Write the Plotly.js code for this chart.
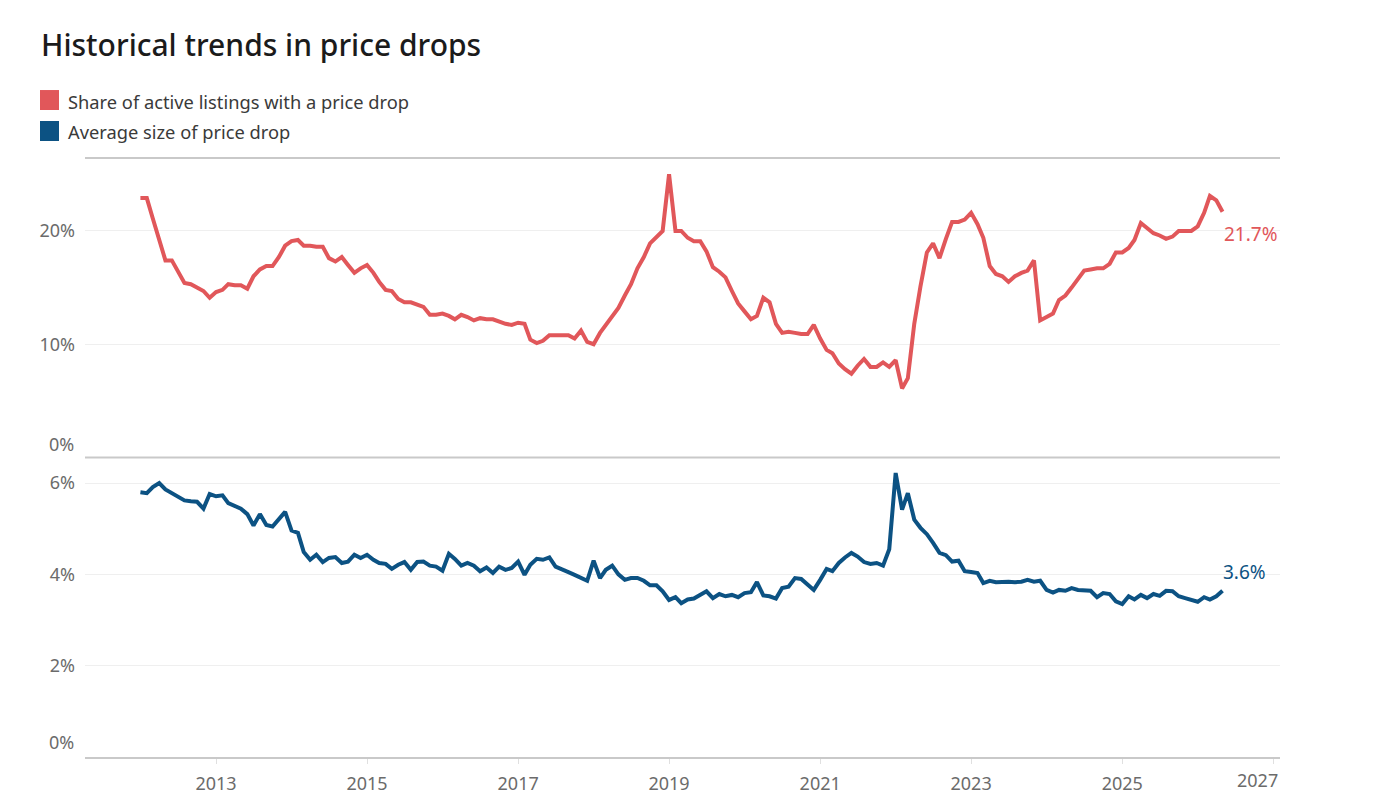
<!DOCTYPE html>
<html>
<head>
<meta charset="utf-8">
<script src="https://cdn.plot.ly/plotly-3.0.1.min.js"></script>
<style>
  html, body { margin: 0; padding: 0; background: #ffffff; }
  #chart { width: 1400px; height: 812px; }
</style>
</head>
<body>
<div id="chart"></div>
<script>
// ---------- DATA (monthly, starting January 2012) ----------
const startYear = 2012;

const seriesNames = [
  'Share of active listings with a price drop',
  'Average size of price drop'
];

// Share of active listings with a price drop (%)
const shareWithDrop = [
  22.9, 22.9, 21.1, 19.2, 17.4, 17.4, 16.4, 15.4, 15.3, 15.0, 14.7, 14.1, // 2012
  14.6, 14.8, 15.3, 15.2, 15.2, 14.9, 16.0, 16.6, 16.9, 16.9, 17.7, 18.7, // 2013
  19.1, 19.2, 18.7, 18.7, 18.6, 18.6, 17.6, 17.3, 17.7, 17.0, 16.3, 16.7, // 2014
  17.0, 16.3, 15.5, 14.8, 14.7, 14.0, 13.7, 13.7, 13.5, 13.3, 12.6, 12.6, // 2015
  12.7, 12.5, 12.2, 12.6, 12.4, 12.1, 12.3, 12.2, 12.2, 12.0, 11.8, 11.7, // 2016
  11.9, 11.8, 10.4, 10.1, 10.3, 10.8, 10.8, 10.8, 10.8, 10.5, 11.2, 10.2, // 2017
  10.0, 11.0, 11.7, 12.5, 13.2, 14.3, 15.3, 16.7, 17.7, 18.9, 19.4, 20.0, // 2018
  25.0, 20.0, 20.0, 19.4, 19.1, 19.1, 18.2, 16.8, 16.4, 15.9, 14.7, 13.6, // 2019
  12.9, 12.2, 12.5, 14.1, 13.7, 11.8, 11.0, 11.1, 11.0, 10.9, 10.9, 11.7, // 2020
  10.5,  9.5,  9.2,  8.3,  7.8,  7.4,  8.1,  8.7,  8.0,  8.0,  8.4,  8.0, // 2021
   8.6,  6.1,  7.0, 11.8, 15.1, 18.1, 18.9, 17.6, 19.3, 20.8, 20.8, 21.0, // 2022
  21.6, 20.6, 19.4, 16.9, 16.2, 16.0, 15.5, 16.0, 16.3, 16.5, 17.4, 12.1, // 2023
  12.4, 12.7, 13.9, 14.3, 15.0, 15.7, 16.5, 16.6, 16.7, 16.7, 17.1, 18.1, // 2024
  18.1, 18.5, 19.2, 20.7, 20.3, 19.8, 19.6, 19.3, 19.5, 20.0, 20.0, 20.0, // 2025
  20.4, 21.6, 23.1, 22.7, 21.7                                            // 2026
];

// Average size of price drop (%)
const avgDropSize = [
  5.80, 5.78, 5.91, 6.00, 5.86, 5.78, 5.71, 5.62, 5.60, 5.59, 5.44, 5.76, // 2012
  5.71, 5.73, 5.56, 5.49, 5.44, 5.32, 5.07, 5.32, 5.08, 5.05, 5.20, 5.37, // 2013
  4.96, 4.91, 4.49, 4.32, 4.43, 4.27, 4.36, 4.38, 4.25, 4.28, 4.43, 4.36, // 2014
  4.43, 4.32, 4.25, 4.23, 4.12, 4.21, 4.27, 4.10, 4.27, 4.28, 4.19, 4.17, // 2015
  4.08, 4.45, 4.34, 4.19, 4.25, 4.19, 4.07, 4.15, 4.03, 4.17, 4.10, 4.14, // 2016
  4.28, 3.99, 4.21, 4.34, 4.32, 4.37, 4.17, 4.10, 4.05, 3.99, 3.93, 3.86, // 2017
  4.30, 3.92, 4.10, 4.19, 4.00, 3.88, 3.92, 3.92, 3.86, 3.76, 3.76, 3.63, // 2018
  3.44, 3.50, 3.37, 3.45, 3.47, 3.54, 3.63, 3.48, 3.57, 3.52, 3.55, 3.50, // 2019
  3.59, 3.61, 3.83, 3.54, 3.52, 3.47, 3.70, 3.73, 3.92, 3.90, 3.77, 3.66, // 2020
  3.88, 4.12, 4.07, 4.25, 4.37, 4.47, 4.39, 4.27, 4.23, 4.25, 4.19, 4.55, // 2021
  6.22, 5.42, 5.78, 5.20, 5.02, 4.88, 4.69, 4.47, 4.42, 4.28, 4.30, 4.07, // 2022
  4.05, 4.03, 3.81, 3.86, 3.83, 3.84, 3.84, 3.83, 3.84, 3.88, 3.84, 3.86, // 2023
  3.66, 3.60, 3.66, 3.64, 3.70, 3.66, 3.64, 3.64, 3.50, 3.59, 3.57, 3.41, // 2024
  3.35, 3.52, 3.45, 3.55, 3.48, 3.57, 3.53, 3.64, 3.63, 3.52, 3.48, 3.45, // 2025
  3.40, 3.50, 3.45, 3.52, 3.64                                            // 2026
];

const xTickYears = [2013, 2015, 2017, 2019, 2021, 2023, 2025, 2027];
const topTickVals = [10, 20];
const bottomTickVals = [2, 4, 6];

// ---------- STYLE ----------
const RED = '#e1575a';
const BLUE = '#0c5283';
const FONT = '"Noto Sans", "DejaVu Sans", sans-serif';
const AXIS_GRAY = '#c9c9c9';
const LABEL_GRAY = '#6b6b6b';

const months = shareWithDrop.map((_, i) => {
  const y = startYear + Math.floor(i / 12);
  const m = (i % 12) + 1;
  return y + '-' + String(m).padStart(2, '0') + '-01';
});

const lastIdx = months.length - 1;

// plot area in pixels: x 85..1280, y 158..757.3
const W = 1400, H = 812;
const L = 85, R = 1280, T = 158, B = 757.3;
const px2x = px => (px - L) / (R - L);
const px2y = py => (B - py) / (B - T);

const traces = [
  {
    x: months, y: shareWithDrop, name: seriesNames[0],
    type: 'scatter', mode: 'lines',
    line: { color: RED, width: 4, shape: 'linear' },
    xaxis: 'x', yaxis: 'y2', hoverinfo: 'x+y'
  },
  {
    x: months, y: avgDropSize, name: seriesNames[1],
    type: 'scatter', mode: 'lines',
    line: { color: BLUE, width: 4, shape: 'linear' },
    xaxis: 'x', yaxis: 'y', hoverinfo: 'x+y'
  }
];

const yTickFont = { family: FONT, size: 18, color: LABEL_GRAY };

const layout = {
  width: W, height: H,
  paper_bgcolor: '#ffffff', plot_bgcolor: '#ffffff',
  showlegend: false,
  margin: { l: L, r: W - R, t: T, b: H - B, pad: 0 },
  title: {
    text: 'Historical trends in price drops',
    font: { family: FONT, size: 30, color: '#1b1b1b', weight: 500 },
    xref: 'container', yref: 'container',
    x: 41 / W, xanchor: 'left',
    y: 1 - 45 / H, yanchor: 'middle'
  },
  xaxis: {
    type: 'date',
    range: ['2011-04-08', '2027-02-03'],
    tickvals: xTickYears.map(y => y + '-01-01'),
    ticktext: xTickYears.map(y => (y === 2027 ? '' : String(y))),
    ticks: 'outside', ticklen: 5, tickcolor: '#e0e0e0', tickwidth: 1,
    ticklabelstandoff: 4,
    showgrid: false, zeroline: false,
    showline: true, linecolor: AXIS_GRAY, linewidth: 2,
    tickfont: yTickFont,
    anchor: 'y', fixedrange: true
  },
  yaxis: {
    domain: [0, 0.5],
    range: [0, 6.56],
    tickvals: bottomTickVals,
    ticktext: bottomTickVals.map(v => v + '%'),
    showgrid: true, gridcolor: '#efefef', gridwidth: 1,
    zeroline: false, showline: false, ticks: '',
    ticklabelstandoff: 9,
    tickfont: yTickFont, anchor: 'x', fixedrange: true
  },
  yaxis2: {
    domain: [0.5, 1],
    range: [0, 26.44],
    tickvals: topTickVals,
    ticktext: topTickVals.map(v => v + '%'),
    showgrid: true, gridcolor: '#efefef', gridwidth: 1,
    zeroline: false, showline: false, ticks: '',
    ticklabelstandoff: 9,
    tickfont: yTickFont, anchor: 'x', fixedrange: true
  },
  shapes: [
    { type: 'line', xref: 'paper', yref: 'paper', x0: 0, x1: 1, y0: 1, y1: 1,
      line: { color: AXIS_GRAY, width: 2 } },
    { type: 'line', xref: 'paper', yref: 'paper', x0: 0, x1: 1, y0: 0.5, y1: 0.5,
      line: { color: AXIS_GRAY, width: 2 } },
    // legend swatches
    { type: 'rect', xref: 'paper', yref: 'paper',
      x0: px2x(40), x1: px2x(59), y0: px2y(110), y1: px2y(90),
      fillcolor: RED, line: { width: 0 } },
    { type: 'rect', xref: 'paper', yref: 'paper',
      x0: px2x(40), x1: px2x(59), y0: px2y(141), y1: px2y(121),
      fillcolor: BLUE, line: { width: 0 } }
  ],
  annotations: [
    // legend labels
    { xref: 'paper', yref: 'paper', x: px2x(66), y: px2y(101),
      xanchor: 'left', yanchor: 'middle', showarrow: false,
      text: seriesNames[0], font: { family: FONT, size: 18.3, color: '#3a3a3a' } },
    { xref: 'paper', yref: 'paper', x: px2x(66), y: px2y(131),
      xanchor: 'left', yanchor: 'middle', showarrow: false,
      text: seriesNames[1], font: { family: FONT, size: 18.3, color: '#3a3a3a' } },
    // zero labels (drawn slightly above baseline, as in the original)
    { xref: 'paper', yref: 'y2', x: 0, y: 0, xanchor: 'right', yanchor: 'middle',
      xshift: -9, yshift: 14, showarrow: false, text: '0%', font: yTickFont },
    { xref: 'paper', yref: 'y', x: 0, y: 0, xanchor: 'right', yanchor: 'middle',
      xshift: -9, yshift: 15, showarrow: false, text: '0%', font: yTickFont },
    // last x tick label, kept inside the plot edge
    { xref: 'paper', yref: 'paper', x: 1, y: 0, xanchor: 'right', yanchor: 'middle',
      yshift: -23, showarrow: false, text: '2027', font: yTickFont },
    // end-of-line value labels
    { xref: 'x', yref: 'y2', x: months[lastIdx], y: shareWithDrop[lastIdx],
      xanchor: 'left', yanchor: 'middle', xshift: -1, yshift: -22, showarrow: false,
      text: shareWithDrop[lastIdx].toFixed(1) + '%',
      font: { family: FONT, size: 19, color: RED } },
    { xref: 'x', yref: 'y', x: months[lastIdx], y: avgDropSize[lastIdx],
      xanchor: 'left', yanchor: 'middle', xshift: -2, yshift: 19, showarrow: false,
      text: avgDropSize[lastIdx].toFixed(1) + '%',
      font: { family: FONT, size: 19, color: BLUE } }
  ]
};

Plotly.newPlot('chart', traces, layout, { displayModeBar: false, staticPlot: true });
</script>
</body>
</html>
